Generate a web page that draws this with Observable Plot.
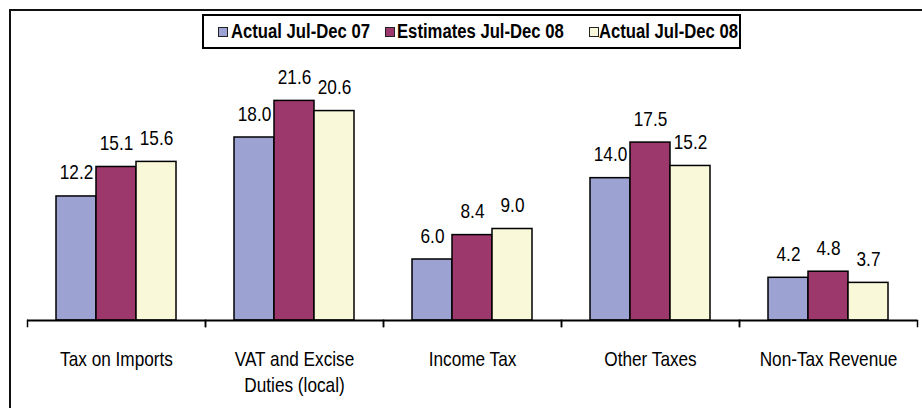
<!DOCTYPE html>
<html>
<head>
<meta charset="utf-8">
<script src="https://cdn.jsdelivr.net/npm/d3@7"></script>
<script src="https://cdn.jsdelivr.net/npm/@observablehq/plot@0.6"></script>
<style>
  html, body { margin: 0; padding: 0; background: #fff; overflow: hidden; }
  #wrap { position: relative; width: 922px; height: 408px; overflow: hidden; }
  #border { position: absolute; left: 9px; top: 9px; width: 960px; height: 440px; border: 2px solid #111; box-sizing: border-box; }
  #legend { position: absolute; left: 202px; top: 14px; width: 539px; height: 35px; border: 2px solid #000; box-sizing: border-box; background: #fff;
    font-family: 'Liberation Sans', Arial, sans-serif; font-weight: bold; font-size: 19.5px; color: #000; }
  .sw { position: absolute; top: 11px; width: 10px; height: 10px; border: 1.5px solid #222; box-sizing: border-box; }
  .lt { position: absolute; top: 4px; line-height: 22px; white-space: nowrap; transform: scaleX(0.855); transform-origin: left center; }
  #chart { position: absolute; left: 0; top: 0; }
</style>
</head>
<body>
<div id="wrap">
  <div id="border"></div>
  <div id="chart"></div>
  <div id="legend"></div>
</div>
<script>
const categories = ["Tax on Imports", "VAT and Excise\nDuties (local)", "Income Tax", "Other Taxes", "Non-Tax Revenue"];
const series = ["Actual Jul-Dec 07", "Estimates Jul-Dec 08", "Actual Jul-Dec 08"];
const actualJulDec07 = [12.2, 18.0, 6.0, 14.0, 4.2];
const estimatesJulDec08 = [15.1, 21.6, 8.4, 17.5, 4.8];
const actualJulDec08 = [15.6, 20.6, 9.0, 15.2, 3.7];
const colors = ["#9ca3d2", "#9c386b", "#f9f8d9"];

const seriesValues = [actualJulDec07, estimatesJulDec08, actualJulDec08];
const data = [];
categories.forEach((c, i) => {
  series.forEach((s, j) => data.push({category: c, series: s, value: seriesValues[j][i]}));
});

const font = "'Liberation Sans', Arial, sans-serif";

const chart = Plot.plot({
  width: 922,
  height: 408,
  marginTop: 15,
  marginBottom: 88,
  marginLeft: 27,
  marginRight: 5,
  style: {fontFamily: font, background: "transparent", color: "#000"},
  fx: {domain: categories, padding: 0, label: null},
  x: {domain: series, paddingInner: 0, paddingOuter: 0.725, axis: null},
  y: {domain: [0, 30], axis: null},
  color: {domain: series, range: colors},
  marks: [
    Plot.barY(data, {fx: "category", x: "series", y: "value", fill: "series", stroke: "#000", strokeWidth: 1.5}),
    Plot.text(data, {fx: "category", x: "series", y: "value", text: d => d.value.toFixed(1), dy: -17, lineAnchor: "bottom", fontSize: 21, fill: "#000"}),
    Plot.ruleY([0], {stroke: "#000", strokeWidth: 2}),
    Plot.frame({anchor: "left", stroke: "#000", strokeWidth: 1.5, insetTop: 305, insetBottom: -6}),
    Plot.frame({anchor: "right", stroke: "#000", strokeWidth: 1.5, insetTop: 305, insetBottom: -6}),
    Plot.axisFx({anchor: "bottom", tickSize: 0, tickPadding: 27, fontSize: 21, lineHeight: 1.24, label: null})
  ]
});
// condense text horizontally to match the narrow typeface of the original
chart.querySelectorAll("text").forEach(t => {
  const tr = t.getAttribute("transform") || "";
  t.setAttribute("transform", (tr + " scale(0.82,1)").trim());
});
document.getElementById("chart").appendChild(chart);

const legend = document.getElementById("legend");
const swatchLeft = [14, 181, 385];
const textLeft = [27, 193, 395];
series.forEach((s, i) => {
  const sw = document.createElement("div");
  sw.className = "sw";
  sw.style.left = swatchLeft[i] + "px";
  sw.style.background = colors[i];
  const t = document.createElement("div");
  t.className = "lt";
  t.style.left = textLeft[i] + "px";
  t.textContent = s;
  legend.appendChild(sw);
  legend.appendChild(t);
});
</script>
</body>
</html>
